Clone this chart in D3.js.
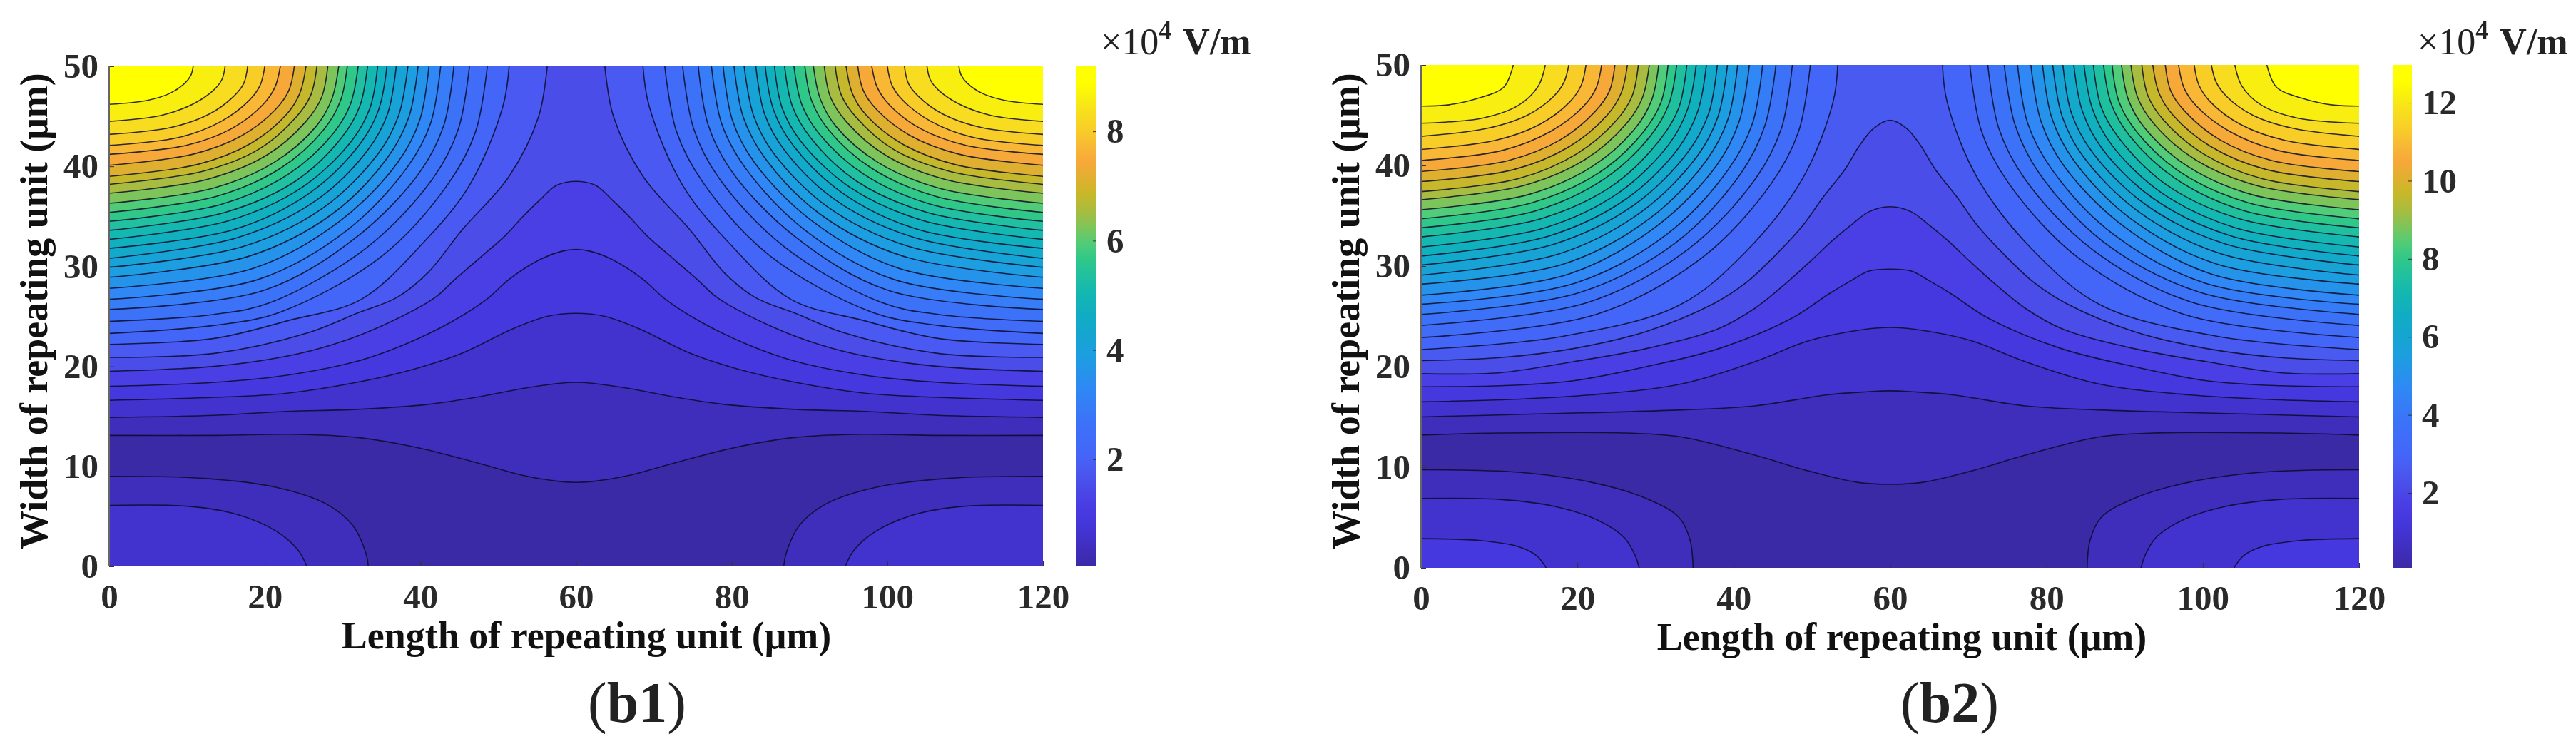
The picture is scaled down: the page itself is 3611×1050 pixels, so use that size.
<!DOCTYPE html>
<html>
<head>
    <title>Electric field contours</title>
    <script src="https://d3js.org/d3.v7.min.js"></script>
    <style>
        html, body { margin: 0; background: #fff; }
        svg { display: block; filter: blur(0.6px); }
        text { font-family: "Liberation Serif", serif; fill: #222; }
        .axis path { display: none; }
        .axis line { stroke: #333; stroke-width: 1; }
        .axis text { font-family: "Liberation Serif", serif; font-size: 49px; font-weight: bold; fill: #2a2a2a; }
        .contour { fill: none; stroke: #0c0c28; stroke-width: 1.6; stroke-opacity: 0.85; }
        .label { font-size: 54px; font-weight: bold; fill: #111; }
    </style>
</head>
<body>
    <svg width="3611" height="1050"></svg>

    <script>
        // Ticks
        const xTicks = [0, 20, 40, 60, 80, 100, 120];
        const yTicks = [0, 10, 20, 30, 40, 50];
        const barTicksB1 = [2, 4, 6, 8];
        const barTicksB2 = [2, 4, 6, 8, 10, 12];

        // Colour range of each panel (x10^4 V/m)
        const rangeB1 = [0.04, 9.19];
        const rangeB2 = [0.08, 12.97];

        // Contour levels, low to high
        const levelsB1 = [0.34, 0.63, 0.93, 1.22, 1.52, 1.81, 2.11, 2.40, 2.70, 2.99, 3.29, 3.58, 3.88, 4.17, 4.47, 4.76, 5.06, 5.35, 5.65, 5.94, 6.24, 6.53, 6.83, 7.12, 7.42, 7.71, 8.01, 8.30, 8.60, 8.89];
        const levelsB2 = [0.50, 0.91, 1.33, 1.74, 2.16, 2.58, 2.99, 3.41, 3.82, 4.24, 4.66, 5.07, 5.49, 5.90, 6.32, 6.74, 7.15, 7.57, 7.98, 8.40, 8.82, 9.23, 9.65, 10.06, 10.48, 10.90, 11.31, 11.73, 12.14, 12.56];

        // Colours: position 0..1, colour
        const colorPos = [0, 0.033, 0.065, 0.097, 0.13, 0.16, 0.19, 0.225, 0.29, 0.355, 0.42, 0.5, 0.55, 0.58, 0.615, 0.645, 0.68, 0.71, 0.745, 0.775, 0.81, 0.84, 0.87, 0.903, 0.935, 0.967, 1];
        const colorHex = ["#3b2aa5", "#3f2dbb", "#4233cf", "#4538de", "#4a3fe4", "#4a4ce8", "#4a58f0", "#4466f8", "#3c72f8", "#2f88f5", "#1c9ee0", "#10acc4", "#14b8b0", "#20c0a0", "#30c888", "#50cc78", "#80c458", "#a8bc40", "#c8b828", "#e0b030", "#f8a83a", "#f8b835", "#f8cc28", "#f8dc20", "#f8ee10", "#ffff00", "#ffff00"];

        // Left half of each contour, [length, width] in um. Right half is the mirror.
        // Contours closing on the bottom corner, outermost first
        const cornerB1 = [
            [[0, 9.0], [12.2, 8.8], [21.5, 7.9], [28, 6.2], [31.3, 4.1], [33, 1.3], [33.3, 0]],
            [[0, 6.1], [10.3, 6], [16.4, 5.2], [21.5, 3.5], [24.3, 1.6], [25.4, 0]]
        ];
        // Contours running across the middle, lowest first
        const humpB1 = [
            [[0, 13.1], [13.5, 13.1], [24.2, 13.2], [31.8, 12.9], [39.5, 11.9], [47.1, 10.4], [53.2, 9.1], [57.8, 8.5], [60, 8.4]],
            [[0, 14.9], [13.5, 15.1], [22.7, 15.5], [31.8, 15.7], [41, 16.2], [47.1, 16.9], [53.2, 17.8], [57.8, 18.3], [60, 18.4]],
            [[0, 16.6], [13.5, 16.9], [22.7, 17.3], [31.8, 18.4], [39.5, 19.8], [45.6, 21.4], [51.7, 23.7], [56.3, 25], [60, 25.3]],
            [[0, 18.0], [13.5, 18.4], [22.7, 19.1], [31.8, 20.5], [38, 22.2], [44.1, 24.5], [48.5, 26.7], [51.4, 28.7], [55.4, 30.7], [58.1, 31.5], [60, 31.7]],
            [[0, 19.5], [13.5, 20], [22.7, 21], [28.8, 22.2], [34.9, 24], [41.9, 26.9], [44.3, 28.6], [47.7, 30.9], [50.8, 33], [53.2, 35], [55.3, 36.6], [57.5, 38.1], [60, 38.5]]
        ];
        // Contours closing on the top corner, innermost first
        const topB1 = [
            [[0, 46.2], [4.9, 46.6], [7.8, 47.3], [9.7, 48.3], [10.5, 49.1], [10.8, 50]],
            [[0, 44.5], [6.7, 45.1], [10.7, 46.2], [13.4, 47.6], [14.5, 48.7], [14.9, 50]],
            [[0, 43.2], [8.0, 43.9], [12.8, 45.2], [16.0, 47.0], [17.3, 48.3], [17.8, 50]],
            [[0, 42.1], [9.0, 42.9], [14.4, 44.5], [18.0, 46.6], [19.4, 48.1], [20.0, 50]],
            [[0, 41.2], [9.9, 42.1], [15.8, 43.8], [19.8, 46.2], [21.3, 47.9], [22.0, 50]],
            [[0, 40.1], [10.7, 41.2], [17.1, 43.1], [21.4, 45.7], [23.1, 47.6], [23.8, 50]],
            [[0, 39.0], [11.4, 40.2], [18.2, 42.3], [22.8, 45.2], [24.5, 47.3], [25.3, 50]],
            [[0, 38.2], [12.0, 39.5], [19.2, 41.7], [24.0, 44.9], [25.9, 47.1], [26.7, 50]],
            [[0, 37.3], [12.6, 38.7], [20.2, 41.1], [25.3, 44.5], [27.3, 46.9], [28.1, 50]],
            [[0, 36.3], [13.3, 37.8], [21.2, 40.4], [26.6, 44.0], [28.6, 46.7], [29.5, 50]],
            [[0, 35.4], [13.8, 37.0], [22.0, 39.8], [27.5, 43.6], [29.7, 46.5], [30.6, 50]],
            [[0, 34.5], [14.4, 36.2], [23.0, 39.2], [28.8, 43.3], [31.0, 46.2], [32.0, 50]],
            [[0, 33.6], [14.9, 35.4], [23.9, 38.5], [29.9, 42.9], [32.2, 46.0], [33.2, 50]],
            [[0, 32.7], [15.5, 34.6], [24.8, 37.9], [31.1, 42.5], [33.5, 45.8], [34.5, 50]],
            [[0, 31.8], [16.1, 33.7], [25.7, 37.3], [32.1, 42.1], [34.6, 45.6], [35.7, 50]],
            [[0, 30.8], [16.6, 32.9], [26.6, 36.6], [33.2, 41.6], [35.8, 45.3], [36.9, 50]],
            [[0, 29.9], [17.3, 32.0], [27.6, 35.9], [34.6, 41.3], [37.2, 45.1], [38.4, 50]],
            [[0, 28.9], [17.9, 31.0], [28.6, 35.2], [35.7, 40.8], [38.5, 44.9], [39.7, 50]],
            [[0, 27.8], [18.5, 29.8], [29.6, 34.5], [37.0, 40.3], [39.9, 44.6], [41.1, 50]],
            [[0, 26.7], [19.2, 28.7], [30.7, 33.7], [38.3, 39.9], [41.3, 44.3], [42.6, 50]],
            [[0, 25.7], [19.9, 27.6], [31.9, 33.0], [39.9, 39.4], [43.0, 44.1], [44.3, 50]],
            [[0, 24.5], [13.5, 25.2], [20.8, 26.4], [33.3, 32.0], [41.7, 38.9], [44.9, 43.8], [46.3, 50]],
            [[0, 23.3], [13.5, 24.1], [21.9, 25.4], [35.0, 31.0], [43.7, 38.4], [47.1, 43.5], [48.6, 50]],
            [[0, 22.2], [13.5, 22.8], [23.1, 24.6], [32.4, 26.7], [40.4, 32.4], [46.3, 38.1], [50.6, 46], [51.4, 50]],
            [[0, 20.9], [13.5, 21.3], [25.7, 23.4], [31.8, 25.3], [37, 26.9], [41, 29.4], [45.3, 33.6], [51.4, 39], [55.2, 45], [56.3, 50]]
        ];

        const cornerB2 = [
            [[0, 9.75], [12.5, 9.5], [21.8, 8.5], [28.8, 6.9], [33, 5], [34.4, 2.8], [34.8, 0]],
            [[0, 6.9], [10.1, 6.8], [17.1, 6.1], [22.7, 4.7], [26, 3], [27.4, 1.2], [27.9, 0]],
            [[0, 2.9], [7.8, 2.7], [12.5, 2.1], [14.8, 1.2], [16, 0]]
        ];
        const humpB2 = [
            [[0, 13.2], [10.1, 13.4], [26.4, 13.4], [33.4, 13], [42.7, 11.2], [49.7, 9.6], [55.8, 8.5], [60, 8.3]],
            [[0, 15], [14.8, 15.3], [33.4, 15.7], [42.7, 16.1], [52, 17.2], [57, 17.5], [60, 17.6]],
            [[0, 16.5], [10.1, 16.7], [21.8, 17.2], [33.4, 18.3], [42.7, 20.5], [49.7, 22.6], [56.7, 23.7], [60, 23.9]],
            [[0, 18], [10.1, 18.1], [19.5, 18.6], [28.8, 20], [38.1, 21.8], [47.4, 24.8], [52.1, 27.2], [54.9, 28.5], [57.3, 29.5], [60, 29.7]],
            [[0, 19.3], [10.1, 19.4], [19.5, 20.5], [28.8, 21.8], [38.1, 23.8], [42.7, 25.8], [46.7, 28.3], [49.7, 30.4], [52.7, 32.6], [55.2, 34.2], [57.3, 35.4], [60, 35.9]],
            [[0, 20.6], [10.1, 20.9], [19.5, 21.8], [28.8, 23.5], [37.5, 26.3], [41.5, 28.3], [45.1, 30.9], [48.8, 34], [51.2, 36.6], [54.3, 39.7], [56.1, 42], [57.9, 43.7], [60, 44.5]]
        ];
        const topB2 = [
            [[0, 45.9], [3.2, 46], [6.9, 46.6], [10.6, 47.8], [11.8, 50]],
            [[0, 44.2], [7.8, 44.7], [12.5, 46], [15, 47.9], [15.9, 50]],
            [[0, 42.9], [8.5, 43.7], [13.6, 45.0], [17.0, 46.9], [18.3, 48.3], [18.9, 50]],
            [[0, 41.6], [9.5, 42.5], [15.2, 44.1], [19, 46.3], [20.5, 48], [21.1, 50]],
            [[0, 40.5], [10.4, 41.5], [16.6, 43.4], [20.8, 45.9], [22.4, 47.7], [23.1, 50]],
            [[0, 39.4], [11.2, 40.5], [17.9, 42.6], [22.3, 45.4], [24.1, 47.4], [24.8, 50]],
            [[0, 38.4], [11.9, 39.6], [19, 41.9], [23.8, 45], [25.6, 47.2], [26.4, 50]],
            [[0, 37.4], [12.5, 38.7], [20, 41.2], [25, 44.5], [27, 46.9], [27.8, 50]],
            [[0, 36.6], [13.1, 38], [21, 40.6], [26.3, 44.2], [28.3, 46.7], [29.2, 50]],
            [[0, 35.6], [13.7, 37.1], [21.9, 39.9], [27.4, 43.7], [29.5, 46.5], [30.4, 50]],
            [[0, 34.7], [14.2, 36.3], [22.8, 39.3], [28.4, 43.3], [30.7, 46.3], [31.6, 50]],
            [[0, 33.8], [14.7, 35.5], [23.5, 38.7], [29.4, 43], [31.7, 46.1], [32.7, 50]],
            [[0, 32.9], [15.3, 34.7], [24.5, 38], [30.6, 42.6], [33, 45.8], [34, 50]],
            [[0, 31.9], [15.8, 33.8], [25.3, 37.3], [31.7, 42.1], [34.1, 45.6], [35.2, 50]],
            [[0, 31], [16.4, 33], [26.3, 36.7], [32.9, 41.7], [35.4, 45.4], [36.5, 50]],
            [[0, 30.1], [17.1, 32.2], [27.3, 36.1], [34.1, 41.3], [36.8, 45.2], [37.9, 50]],
            [[0, 29.1], [17.6, 31.2], [28.2, 35.4], [35.3, 40.9], [38, 44.9], [39.2, 50]],
            [[0, 28.2], [18.2, 30.2], [29.2, 34.7], [36.5, 40.5], [39.3, 44.7], [40.5, 50]],
            [[0, 27.1], [18.9, 29.2], [30.2, 34], [37.8, 40], [40.7, 44.4], [42, 50]],
            [[0, 26.2], [19.7, 28.3], [31.5, 33.2], [39.3, 39.6], [42.4, 44.2], [43.7, 50]],
            [[0, 25.2], [20.4, 27.4], [32.7, 32.4], [40.9, 39.2], [44, 44], [45.4, 50]],
            [[0, 24.1], [21.4, 26.4], [34.2, 31.7], [42.8, 38.7], [46.1, 43.7], [47.5, 50]],
            [[0, 22.9], [22.4, 25.2], [35.9, 30.8], [44.8, 38.2], [48.3, 43.4], [49.8, 50]],
            [[0, 21.7], [18, 23], [33, 26.1], [41.5, 31.4], [48.8, 38.7], [52.7, 46.3], [53.3, 50]]
        ];

        const svg = d3.select("svg");

        function drawPanel(p) {
            const xScale = d3.scaleLinear().domain([0, 120]).range([p.left, p.right]);
            const yScale = d3.scaleLinear().domain([0, 50]).range([p.bottom, p.top]);
            const toColor = d3.scaleLinear()
                .domain(colorPos.map(t => p.range[0] + t * (p.range[1] - p.range[0])))
                .range(colorHex);

            const area = edge => d3.area()
                .x(d => xScale(d[0]))
                .y0(yScale(edge))
                .y1(d => yScale(d[1]))
                .curve(d3.curveCatmullRom.alpha(0.5));
            const line = d3.line()
                .x(d => xScale(d[0]))
                .y(d => yScale(d[1]))
                .curve(d3.curveCatmullRom.alpha(0.5));
            const mirror = pts => pts.map(d => [120 - d[0], d[1]]);

            // shapes, each one is a filled region plus its contour line
            const shapes = [];
            p.hump.forEach((pts, i) => {
                const full = pts.concat(mirror(pts).reverse().slice(1));
                shapes.push({ level: p.levels[i], pts: full, edge: 50 });
            });
            p.corner.forEach((pts, i) => {
                shapes.push({ level: p.levels[i], pts: pts, edge: 0 });
                shapes.push({ level: p.levels[i], pts: mirror(pts), edge: 0 });
            });
            p.topArcs.forEach((pts, i) => {
                const lvl = p.levels[p.levels.length - 1 - i];
                shapes.push({ level: lvl, pts: pts, edge: 50 });
                shapes.push({ level: lvl, pts: mirror(pts), edge: 50 });
            });
            shapes.sort((a, b) => a.level - b.level);

            const g = svg.append("g");
            g.append("clipPath").attr("id", "clip-" + p.id)
                .append("rect")
                .attr("x", p.left).attr("y", p.top)
                .attr("width", p.right - p.left).attr("height", p.bottom - p.top);

            const plot = g.append("g").attr("clip-path", `url(#clip-${p.id})`);
            plot.append("rect")
                .attr("x", p.left).attr("y", p.top)
                .attr("width", p.right - p.left).attr("height", p.bottom - p.top)
                .attr("fill", toColor(p.range[0]));

            plot.selectAll("path.band")
                .data(shapes)
                .enter().append("path")
                .attr("class", "band")
                .attr("fill", d => toColor(d.level))
                .attr("d", d => area(d.edge)(d.pts));

            plot.selectAll("path.contour")
                .data(shapes)
                .enter().append("path")
                .attr("class", "contour")
                .attr("d", d => line(d.pts));

            // axes
            g.append("g").attr("class", "axis")
                .attr("transform", `translate(0,${p.bottom})`)
                .call(d3.axisBottom(xScale).tickValues(xTicks).tickSize(-7).tickPadding(24));
            g.append("g").attr("class", "axis")
                .attr("transform", `translate(${p.left},0)`)
                .call(d3.axisLeft(yScale).tickValues(yTicks).tickSize(-7).tickPadding(15));
            g.append("line")
                .attr("x1", p.left).attr("x2", p.left)
                .attr("y1", p.top).attr("y2", p.bottom)
                .attr("stroke", "#666").attr("stroke-width", 2);

            // colour bar
            const barScale = d3.scaleLinear().domain(p.range).range([p.bottom, p.top]);
            const grad = g.append("linearGradient").attr("id", "grad-" + p.id)
                .attr("x1", 0).attr("x2", 0).attr("y1", 1).attr("y2", 0);
            grad.selectAll("stop")
                .data(colorPos)
                .enter().append("stop")
                .attr("offset", d => d)
                .attr("stop-color", (d, i) => colorHex[i]);
            g.append("rect")
                .attr("x", p.barLeft).attr("y", p.top)
                .attr("width", p.barRight - p.barLeft).attr("height", p.bottom - p.top)
                .attr("fill", `url(#grad-${p.id})`);
            g.append("g").attr("class", "axis")
                .attr("transform", `translate(${p.barRight},0)`)
                .call(d3.axisRight(barScale).tickValues(p.barTicks).tickSize(-5).tickPadding(14));

            // labels
            g.append("text").attr("class", "label")
                .attr("x", p.xLabelX).attr("y", p.xLabelY)
                .attr("text-anchor", "middle")
                .text("Length of repeating unit (μm)");
            g.append("text").attr("class", "label")
                .attr("transform", `translate(${p.yLabelX},436) rotate(-90)`)
                .attr("text-anchor", "middle")
                .text("Width of repeating unit (μm)");

            const unit = g.append("text")
                .attr("x", p.unitX).attr("y", 76)
                .attr("font-size", 52).attr("fill", "#222");
            unit.append("tspan").text("×10");
            unit.append("tspan").attr("dy", -22).attr("font-size", 36).attr("font-weight", "bold").text("4");
            unit.append("tspan").attr("dy", 22).attr("dx", 16).attr("font-weight", "bold").text("V/m");

            const cap = g.append("text")
                .attr("x", p.capX).attr("y", 1012)
                .attr("text-anchor", "middle")
                .attr("font-size", 80).attr("fill", "#000");
            cap.append("tspan").text("(");
            cap.append("tspan").attr("font-weight", "bold").text(p.id);
            cap.append("tspan").text(")");
        }

        drawPanel({
            id: "b1", left: 153, right: 1462, top: 93, bottom: 794,
            barLeft: 1508, barRight: 1537, range: rangeB1, barTicks: barTicksB1, levels: levelsB1,
            corner: cornerB1, hump: humpB1, topArcs: topB1,
            xLabelX: 822, xLabelY: 909, yLabelX: 66, unitX: 1543, capX: 893
        });
        drawPanel({
            id: "b2", left: 1992, right: 3307, top: 91, bottom: 796,
            barLeft: 3354, barRight: 3381, range: rangeB2, barTicks: barTicksB2, levels: levelsB2,
            corner: cornerB2, hump: humpB2, topArcs: topB2,
            xLabelX: 2666, xLabelY: 911, yLabelX: 1905, unitX: 3389, capX: 2733
        });
    </script>
</body>
</html>
